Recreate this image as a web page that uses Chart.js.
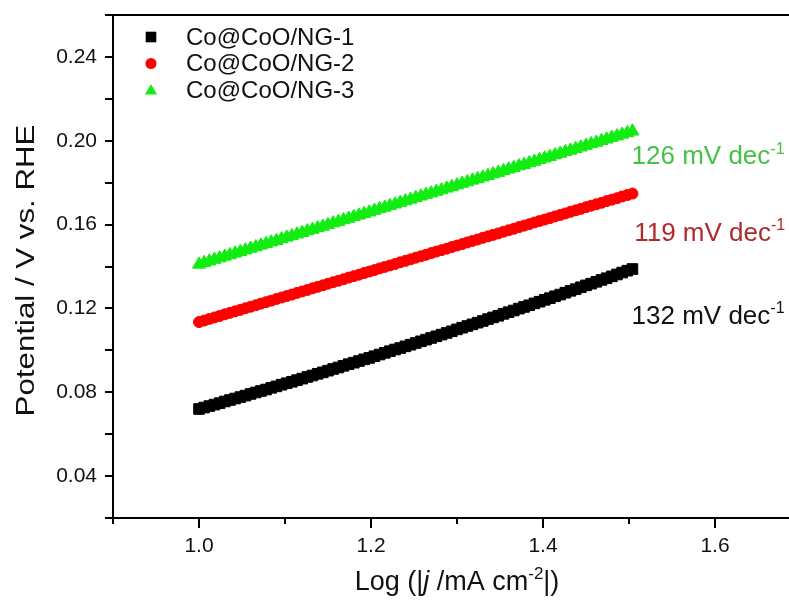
<!DOCTYPE html>
<html>
<head>
<meta charset="utf-8">
<title>Tafel plots</title>
<script src="https://cdn.jsdelivr.net/npm/chart.js@4.4.1/dist/chart.umd.min.js"></script>
<style>
  html, body { margin: 0; padding: 0; background: #fff; overflow: hidden; }
  #wrap { width: 812px; height: 603px; }
</style>
</head>
<body>
<div id="wrap"><canvas id="tafelChart" width="812" height="603"></canvas></div>
<script>
// log|j| (mA cm-2), shared by all three samples
const logJ = [
  1.000, 1.006, 1.012, 1.018, 1.024, 1.030, 1.036, 1.042, 1.048, 1.054,
  1.060, 1.066, 1.072, 1.078, 1.084, 1.090, 1.096, 1.102, 1.108, 1.114,
  1.120, 1.126, 1.132, 1.138, 1.144, 1.150, 1.156, 1.162, 1.168, 1.174,
  1.180, 1.186, 1.192, 1.198, 1.204, 1.210, 1.216, 1.222, 1.228, 1.234,
  1.240, 1.246, 1.252, 1.258, 1.264, 1.270, 1.276, 1.282, 1.288, 1.294,
  1.300, 1.306, 1.312, 1.318, 1.324, 1.330, 1.336, 1.342, 1.348, 1.354,
  1.360, 1.366, 1.372, 1.378, 1.384, 1.390, 1.396, 1.402, 1.408, 1.414,
  1.420, 1.426, 1.432, 1.438, 1.444, 1.450, 1.456, 1.462, 1.468, 1.474,
  1.480, 1.486, 1.492, 1.498, 1.504
];

// potential (V vs. RHE)
const ng1 = [
  0.0720, 0.0727, 0.0734, 0.0741, 0.0748, 0.0756, 0.0763, 0.0770, 0.0777, 0.0784,
  0.0792, 0.0799, 0.0806, 0.0813, 0.0821, 0.0828, 0.0836, 0.0843, 0.0850, 0.0858,
  0.0865, 0.0873, 0.0880, 0.0888, 0.0895, 0.0903, 0.0911, 0.0918, 0.0926, 0.0934,
  0.0941, 0.0949, 0.0957, 0.0964, 0.0972, 0.0980, 0.0988, 0.0996, 0.1004, 0.1011,
  0.1019, 0.1027, 0.1035, 0.1043, 0.1051, 0.1059, 0.1067, 0.1075, 0.1083, 0.1091,
  0.1100, 0.1108, 0.1116, 0.1124, 0.1132, 0.1140, 0.1149, 0.1157, 0.1165, 0.1174,
  0.1182, 0.1190, 0.1199, 0.1207, 0.1215, 0.1224, 0.1232, 0.1241, 0.1249, 0.1258,
  0.1266, 0.1275, 0.1284, 0.1292, 0.1301, 0.1310, 0.1318, 0.1327, 0.1336, 0.1344,
  0.1353, 0.1362, 0.1371, 0.1380, 0.1388
];
const ng2 = [
  0.1135, 0.1142, 0.1150, 0.1157, 0.1164, 0.1172, 0.1179, 0.1186, 0.1193, 0.1201,
  0.1208, 0.1215, 0.1223, 0.1230, 0.1237, 0.1245, 0.1252, 0.1259, 0.1266, 0.1274,
  0.1281, 0.1288, 0.1296, 0.1303, 0.1310, 0.1318, 0.1325, 0.1332, 0.1339, 0.1347,
  0.1354, 0.1361, 0.1369, 0.1376, 0.1383, 0.1391, 0.1398, 0.1405, 0.1412, 0.1420,
  0.1427, 0.1434, 0.1442, 0.1449, 0.1456, 0.1464, 0.1471, 0.1478, 0.1485, 0.1493,
  0.1500, 0.1507, 0.1515, 0.1522, 0.1529, 0.1537, 0.1544, 0.1551, 0.1558, 0.1566,
  0.1573, 0.1580, 0.1588, 0.1595, 0.1602, 0.1610, 0.1617, 0.1624, 0.1631, 0.1639,
  0.1646, 0.1653, 0.1661, 0.1668, 0.1675, 0.1683, 0.1690, 0.1697, 0.1704, 0.1712,
  0.1719, 0.1726, 0.1734, 0.1741, 0.1748
];
const ng3 = [
  0.1410, 0.1418, 0.1425, 0.1433, 0.1440, 0.1448, 0.1455, 0.1463, 0.1470, 0.1478,
  0.1486, 0.1493, 0.1501, 0.1508, 0.1516, 0.1523, 0.1531, 0.1539, 0.1546, 0.1554,
  0.1561, 0.1569, 0.1576, 0.1584, 0.1591, 0.1599, 0.1607, 0.1614, 0.1622, 0.1629,
  0.1637, 0.1644, 0.1652, 0.1659, 0.1667, 0.1675, 0.1682, 0.1690, 0.1697, 0.1705,
  0.1712, 0.1720, 0.1728, 0.1735, 0.1743, 0.1750, 0.1758, 0.1765, 0.1773, 0.1780,
  0.1788, 0.1796, 0.1803, 0.1811, 0.1818, 0.1826, 0.1833, 0.1841, 0.1848, 0.1856,
  0.1864, 0.1871, 0.1879, 0.1886, 0.1894, 0.1901, 0.1909, 0.1917, 0.1924, 0.1932,
  0.1939, 0.1947, 0.1954, 0.1962, 0.1969, 0.1977, 0.1985, 0.1992, 0.2000, 0.2007,
  0.2015, 0.2022, 0.2030, 0.2037, 0.2045
];

const sampleNames = ["Co@CoO/NG-1", "Co@CoO/NG-2", "Co@CoO/NG-3"];
const tafelSlopes = [132, 119, 126]; // mV dec-1

const xMin = 0.9, xMax = 1.7, xStep = 0.1;
const yMin = 0.02, yMax = 0.26, yStep = 0.02;

//---------------------------------------------------
// Styles
//---------------------------------------------------

const markerColors = ["#000000", "#ff0000", "#12ec12"];
const slopeTextColors = ["#111111", "#b0292c", "#45c245"];
const pointStyles = ["rect", "circle", "triangle"];
const pointRadii = [7.5, 5.5, 7.5];
// where each slope text sits (data coords, left/middle)
const slopeTextAt = [[1.503, 0.1170], [1.506, 0.1565], [1.503, 0.1930]];

const FONT = "'Liberation Sans', Arial, sans-serif";
const NARROW = "'Liberation Sans Narrow', 'Arial Narrow', " + FONT;

function series(values) {
  return logJ.map((x, i) => ({ x: x, y: values[i] }));
}

// text runs: [{ t, sup, italic }]
function drawRuns(ctx, runs, x, y, size, family, align) {
  const font = (r) =>
    (r.italic ? "italic " : "") + Math.round(r.sup ? size * 0.62 : size) + "px " + family;
  let total = 0;
  runs.forEach((r) => { ctx.font = font(r); total += ctx.measureText(r.t).width; });
  let cx = align === "center" ? x - total / 2 : x;
  ctx.textAlign = "left";
  ctx.textBaseline = "alphabetic";
  runs.forEach((r) => {
    ctx.font = font(r);
    ctx.fillText(r.t, cx, r.sup ? y - size * 0.42 : y);
    cx += ctx.measureText(r.t).width;
  });
}

function drawMarker(ctx, style, x, y, r, color) {
  ctx.fillStyle = color;
  ctx.beginPath();
  if (style === "rect") {
    const s = r * Math.SQRT1_2;
    ctx.rect(x - s, y - s, 2 * s, 2 * s);
  } else if (style === "circle") {
    ctx.arc(x, y, r, 0, Math.PI * 2);
  } else {
    ctx.moveTo(x, y - r);
    ctx.lineTo(x + r * 0.866, y + r * 0.5);
    ctx.lineTo(x - r * 0.866, y + r * 0.5);
    ctx.closePath();
  }
  ctx.fill();
}

// keep the plot box exactly where the layout padding puts it
function fitY(scale) {
  scale.width = 113;
  scale.paddingTop = 0;
  scale.paddingBottom = 0;
}
function fitX(scale) {
  scale.height = 85;
  scale.paddingLeft = 0;
  scale.paddingRight = 0;
}

//---------------------------------------------------
// Frame, ticks, legend, labels
//---------------------------------------------------

const decorations = {
  id: "decorations",
  afterDraw(chart) {
    const { ctx, chartArea: a, scales } = chart;
    const x = scales.x, y = scales.y;
    ctx.save();

    ctx.strokeStyle = "#000";
    ctx.lineWidth = 2;
    ctx.beginPath();
    ctx.moveTo(a.right, a.top);
    ctx.lineTo(a.left - 1, a.top);
    ctx.moveTo(a.left, a.top);
    ctx.lineTo(a.left, a.bottom);
    ctx.lineTo(a.right, a.bottom);

    x.ticks.forEach((t) => {
      const px = Math.round(x.getPixelForValue(t.value));
      const major = Math.round(t.value * 10) % 2 === 0;
      ctx.moveTo(px, a.bottom);
      ctx.lineTo(px, a.bottom + (major ? 10 : 6));
    });
    y.ticks.forEach((t) => {
      const py = Math.round(y.getPixelForValue(t.value));
      ctx.moveTo(a.left, py);
      ctx.lineTo(a.left - 8, py);
    });
    ctx.stroke();

    // legend
    const lx = 151, ly = 37, row = 26.5;
    sampleNames.forEach((name, i) => {
      const cy = ly + i * row;
      const r = [7.5, 5.5, 7][i];
      drawMarker(ctx, pointStyles[i], lx, cy + (i === 2 ? 1 : 0), r, markerColors[i]);
      ctx.fillStyle = "#111";
      ctx.font = "24px " + FONT;
      ctx.textAlign = "left";
      ctx.textBaseline = "middle";
      ctx.fillText(name, 186, cy + 1);
    });

    // Tafel slopes
    tafelSlopes.forEach((s, i) => {
      const px = x.getPixelForValue(slopeTextAt[i][0]);
      const py = y.getPixelForValue(slopeTextAt[i][1]);
      ctx.fillStyle = slopeTextColors[i];
      drawRuns(ctx, [{ t: s + " mV dec" }, { t: "-1", sup: true }], px, py + 9, 26, FONT, "left");
    });

    // axis titles
    ctx.fillStyle = "#111";
    drawRuns(ctx, [
      { t: "Log (|" }, { t: "j", italic: true }, { t: " /mA cm" },
      { t: "-2", sup: true }, { t: "|)" }
    ], (a.left + a.right) / 2, 590, 27, NARROW, "center");

    ctx.save();
    ctx.translate(34, (a.top + a.bottom) / 2 + 4);
    ctx.rotate(-Math.PI / 2);
    ctx.scale(1.25, 1);
    drawRuns(ctx, [{ t: "Potential / V vs. RHE" }], 0, 0, 25, FONT, "center");
    ctx.restore();

    ctx.restore();
  }
};

//---------------------------------------------------
// Chart
//---------------------------------------------------

const ctx = document.getElementById("tafelChart");

const chart = new Chart(ctx, {
  type: "scatter",
  data: {
    datasets: [ng1, ng2, ng3].map((vals, i) => ({
      label: sampleNames[i],
      data: series(vals),
      pointStyle: pointStyles[i],
      pointRadius: pointRadii[i],
      pointBackgroundColor: markerColors[i],
      pointBorderColor: markerColors[i],
      pointBorderWidth: 1,
      showLine: false,
    })),
  },
  options: {
    responsive: false,
    animation: false,
    devicePixelRatio: 1,
    layout: { padding: { top: 15, right: 11, left: 0, bottom: 0 } },
    plugins: {
      legend: { display: false },
      tooltip: { enabled: false },
    },
    scales: {
      x: {
        type: "linear",
        min: xMin,
        max: xMax,
        grid: { display: false },
        border: { display: false },
        ticks: {
          stepSize: xStep,
          padding: 8,
          color: "#111",
          font: { family: NARROW, size: 21 },
          maxRotation: 0,
          autoSkip: false,
          callback: (v) => (Math.round(v * 10) % 2 === 0 ? v.toFixed(1) : ""),
        },
        afterFit: fitX,
      },
      y: {
        type: "linear",
        min: yMin,
        max: yMax,
        grid: { display: false },
        border: { display: false },
        ticks: {
          stepSize: yStep,
          padding: 8,
          color: "#111",
          font: { family: FONT, size: 21 },
          autoSkip: false,
          callback: (v) => (Math.round(v / 0.02) % 2 === 0 ? v.toFixed(2) : ""),
        },
        afterFit: fitY,
      },
    },
  },
  plugins: [decorations],
});
</script>
</body>
</html>
